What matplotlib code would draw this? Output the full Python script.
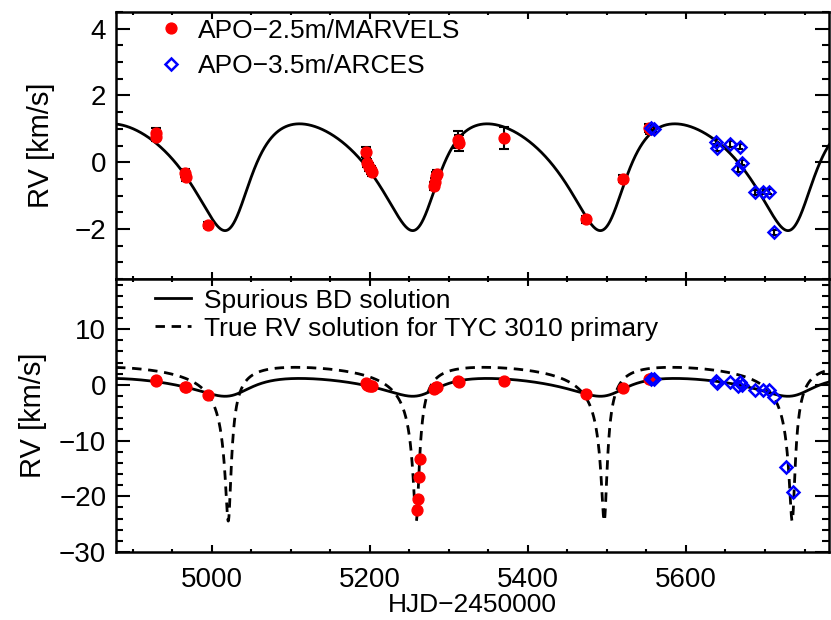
import numpy as np
import matplotlib
matplotlib.use("Agg")
import matplotlib.pyplot as plt
from matplotlib.ticker import MultipleLocator

plt.rcParams['font.family'] = ['Liberation Sans', 'DejaVu Sans']

# ---------------- data ----------------
marvels_t = [4929, 4930, 4966, 4967, 4995, 5195, 5197, 5199, 5201, 5203,
             5260, 5261.5, 5262.3, 5263, 5281, 5282, 5284, 5285, 5312, 5313,
             5370, 5474, 5521, 5553, 5555]
marvels_rv = [0.88, 0.76, -0.33, -0.45, -1.88, 0.30, -0.02, -0.13, -0.22, -0.28,
              -22.5, -20.5, -16.6, -13.3, -0.72, -0.59, -0.42, -0.35, 0.68, 0.58,
              0.73, -1.71, -0.49, 1.02, 0.98]
marvels_err = [0.13, 0.12, 0.12, 0.12, 0.10, 0.15, 0.12, 0.12, 0.12, 0.12,
               0.0, 0.0, 0.0, 0.0, 0.12, 0.12, 0.12, 0.12, 0.25, 0.25,
               0.33, 0.10, 0.10, 0.12, 0.12]

arces_t = [5556, 5559, 5638, 5639, 5656, 5666, 5668, 5671, 5687, 5697, 5705,
           5711, 5727, 5736]
arces_rv = [1.03, 0.98, 0.62, 0.42, 0.55, -0.20, 0.47, -0.01, -0.90, -0.88,
            -0.88, -2.10, -14.8, -19.2]
arces_err = [0.08] * len(arces_t)

# orbital solutions (parameters estimated from the drawn curves)
bd_solution = dict(P=237.4, t_min=5016.9, e=0.29, omega_deg=213.0, K=1.6, gamma=-0.061)
true_solution = dict(P=237.8, t_min=5021.0, e=0.80, omega_deg=190.0, K=13.8, gamma=0.22)

x_limits = (4879, 5781)
top_ylim = (-3.5, 4.5)
bot_ylim = (-30, 19)
x_ticks = [5000, 5200, 5400, 5600]


def kepler_rv(t, P, t_min, e, omega_deg, K, gamma):
    w = np.radians(omega_deg)
    nu_min = np.pi - w
    E_min = 2 * np.arctan(np.sqrt((1 - e) / (1 + e)) * np.tan(nu_min / 2))
    M_min = E_min - e * np.sin(E_min)
    tp = t_min - M_min / (2 * np.pi) * P
    M = np.mod(2 * np.pi * (t - tp) / P, 2 * np.pi)
    E = np.full_like(M, np.pi)
    for _ in range(60):
        E = E - (E - e * np.sin(E) - M) / (1 - e * np.cos(E))
    nu = 2 * np.arctan2(np.sqrt(1 + e) * np.sin(E / 2), np.sqrt(1 - e) * np.cos(E / 2))
    return gamma + K * (np.cos(nu + w) + e * np.cos(w))


tgrid = np.linspace(x_limits[0], x_limits[1], 6000)
rv_bd = kepler_rv(tgrid, **bd_solution)
rv_true = kepler_rv(tgrid, **true_solution)

fig = plt.figure(figsize=(8.31, 6.2), dpi=100)
ax1 = fig.add_axes([0.1396, 0.55, 0.858, 0.4306])
ax2 = fig.add_axes([0.1396, 0.1097, 0.858, 0.4403], sharex=ax1)

red = '#ff0000'
blue = '#0000ff'
lw_curve = 2.0
dash = (0, (3.4, 2.4))


def draw_points(ax, show_err):
    if show_err:
        ax.errorbar(marvels_t, marvels_rv, yerr=marvels_err, fmt='none', ecolor='black',
                    elinewidth=1.5, capsize=3.5, capthick=1.5, zorder=3)
        ax.errorbar(arces_t, arces_rv, yerr=arces_err, fmt='none', ecolor='black',
                    elinewidth=1.5, capsize=2.5, capthick=1.5, zorder=5)
    h1, = ax.plot(marvels_t, marvels_rv, 'o', color=red, ms=7.8, mec=red, zorder=4,
                  label='APO\u22122.5m/MARVELS')
    h2, = ax.plot(arces_t, arces_rv, 'D', mfc='none', mec=blue, mew=1.8, ms=6.5, zorder=6,
                  label='APO\u22123.5m/ARCES')
    return h1, h2


# top panel
ax1.plot(tgrid, rv_bd, color='black', lw=lw_curve, zorder=2)
h1, h2 = draw_points(ax1, True)
ax1.set_xlim(*x_limits)
ax1.set_ylim(*top_ylim)
ax1.yaxis.set_major_locator(MultipleLocator(2))
ax1.yaxis.set_minor_locator(MultipleLocator(0.5))
ax1.set_ylabel('RV [km/s]', fontsize=21, labelpad=14)
ax1.tick_params(axis='x', labelbottom=False)
ax1.legend(handles=[h1, h2], loc='upper left', bbox_to_anchor=(0.059, 0.975),
           frameon=False, fontsize=19, handlelength=1.0, handletextpad=0.5,
           borderpad=0, borderaxespad=0, labelspacing=0.42, numpoints=1)

# bottom panel
l1, = ax2.plot(tgrid, rv_bd, color='black', lw=lw_curve, zorder=2,
               label='Spurious BD solution')
l2, = ax2.plot(tgrid, rv_true, color='black', lw=lw_curve, ls=dash, zorder=2,
               label='True RV solution for TYC 3010 primary')
draw_points(ax2, False)
ax2.set_ylim(*bot_ylim)
ax2.yaxis.set_major_locator(MultipleLocator(10))
ax2.yaxis.set_minor_locator(MultipleLocator(2))
ax2.set_xticks(x_ticks)
ax2.xaxis.set_minor_locator(MultipleLocator(50))
ax2.set_xlabel('HJD\u22122450000', fontsize=19, labelpad=0)
ax2.set_ylabel('RV [km/s]', fontsize=21, labelpad=9)
ax2.legend(handles=[l1, l2], loc='upper left', bbox_to_anchor=(0.0547, 0.965),
           frameon=False, fontsize=19, handlelength=1.35, handletextpad=0.5,
           borderpad=0, borderaxespad=0, labelspacing=0.15)

for ax in (ax1, ax2):
    for s in ax.spines.values():
        s.set_linewidth(1.8)
    ax.tick_params(which='both', direction='in', top=True, right=True, width=1.5)
    ax.tick_params(axis='y', which='major', length=10, labelsize=20, pad=7)
    ax.tick_params(axis='y', which='minor', length=5)
    ax.tick_params(axis='x', which='major', length=5, labelsize=20, pad=11)
    ax.tick_params(axis='x', which='minor', length=2.5)
ax1.xaxis.set_minor_locator(MultipleLocator(50))

fig.savefig('out.png', dpi=100)
